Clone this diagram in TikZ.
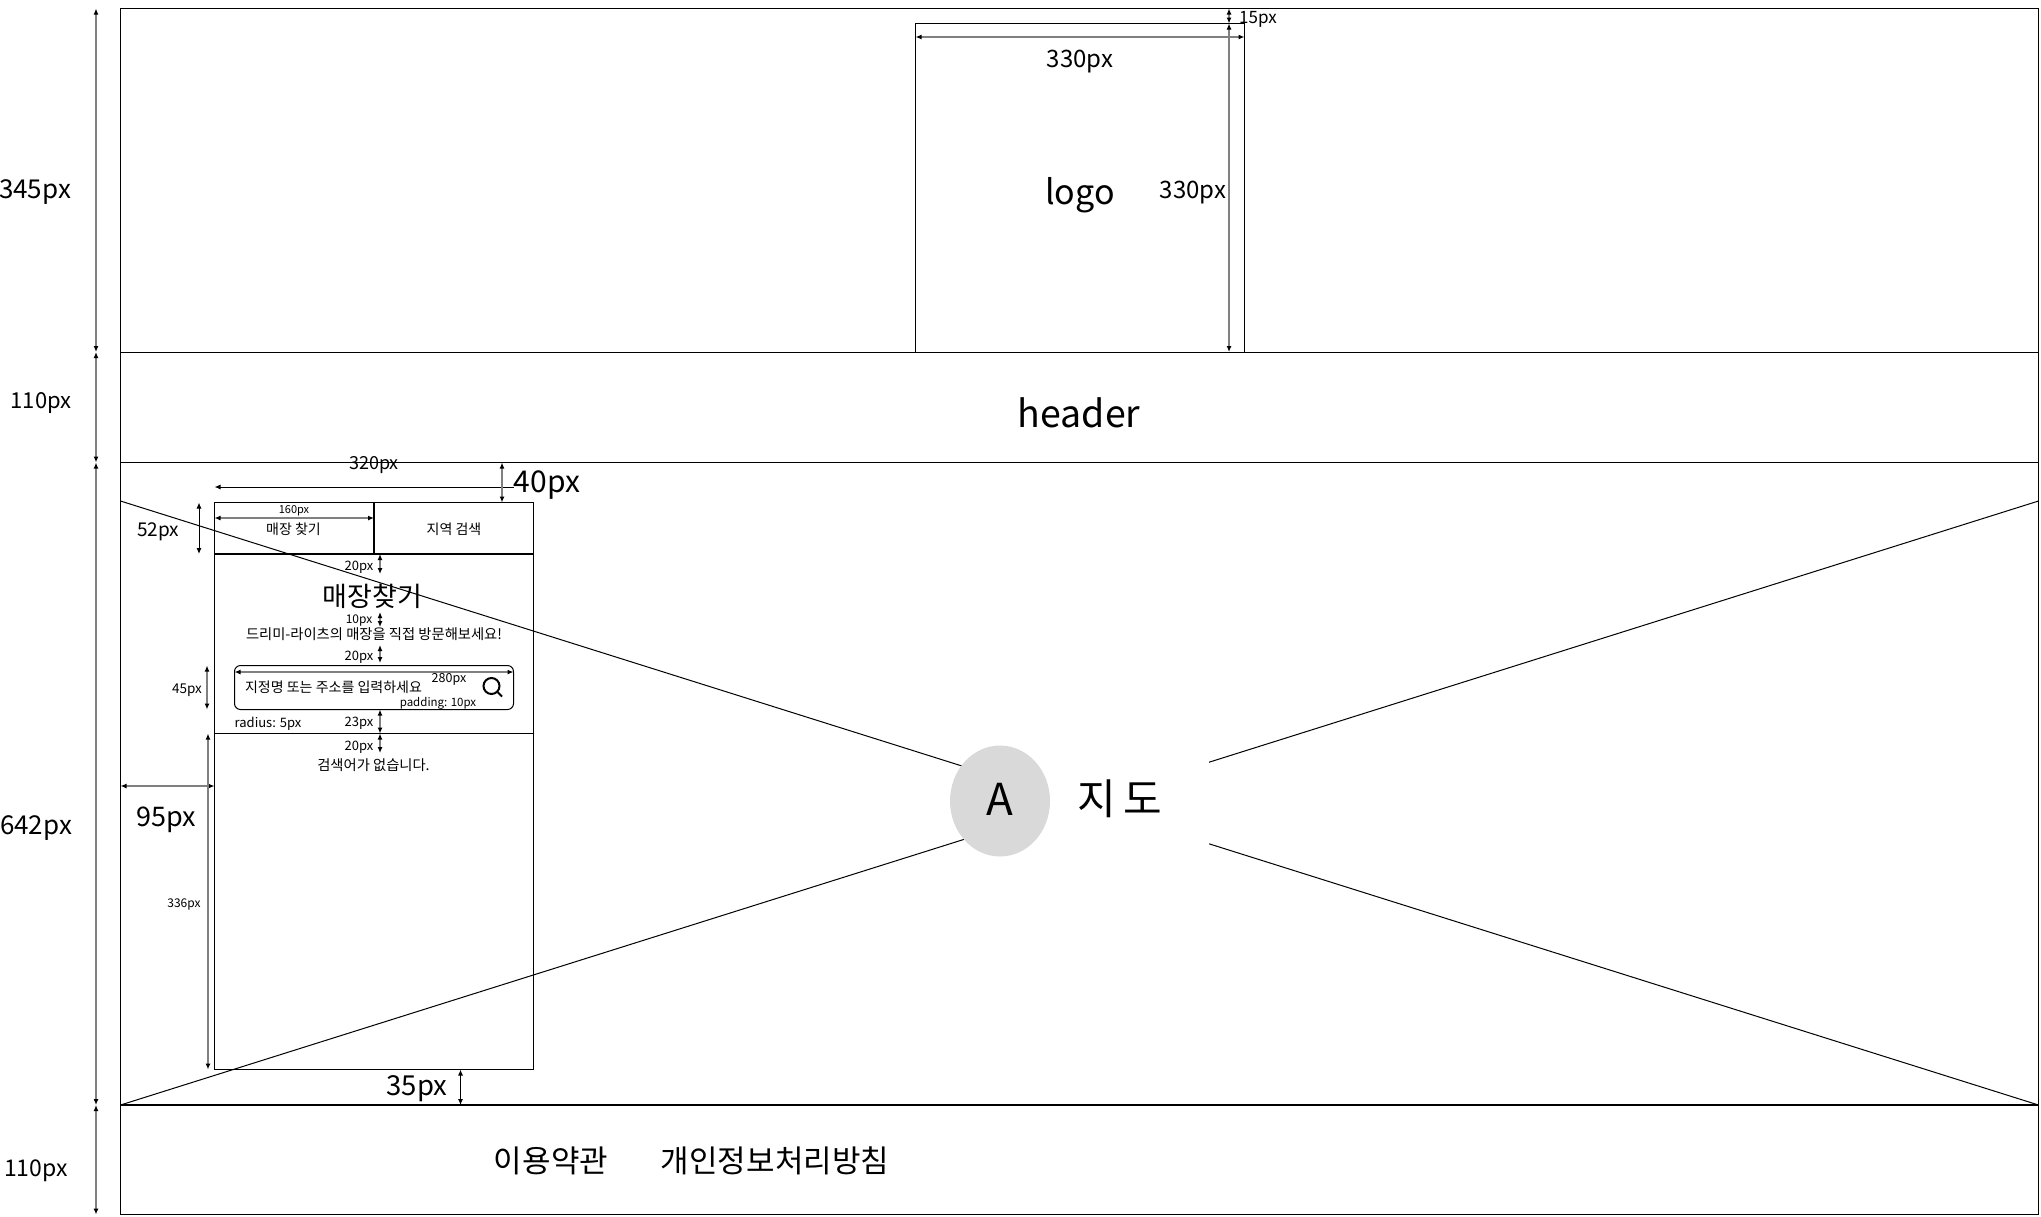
\documentclass[tikz,border=0pt]{standalone}
\usepackage{fontspec}
\setmainfont{Noto Sans CJK KR}
\usetikzlibrary{arrows.meta}
\tikzset{
	kor/.style={inner sep=0pt, font=\fontsize{#1}{#1}\selectfont},
	txt/.style={kor=#1, yshift={-0.13pt*#1}},
	dimline/.style={line width=1.6pt, color=black!50, {Latex[black,length=6pt,width=5pt]}-{Latex[black,length=6pt,width=5pt]}},
	dimthin/.style={dimline, line width=1pt, color=black}
}

\begin{document}
\begin{tikzpicture}[x=1pt, y=-1pt, line width=1pt]
			%%%%% START %%%%%
			\useasboundingbox (0, 0) rectangle (2041, 1216);
			
			\draw (120.5, 8.5) rectangle (2038.5, 1214.5);
			\draw (120.5, 352) -- (2038.5, 352);
			\draw (120.5, 462.5) -- (2038.5, 462.5);
			\draw[line width=2pt] (120.5, 1105) -- (2038.5, 1105);
			
			\draw (120.5, 501) -- (2038.5, 1105);
			\draw (120.5, 1105) -- (2038.5, 501);
			
			\draw (915.5, 23.5) rectangle (1244.5, 352);
			
			\node[fill=white, inner sep=0pt, minimum width=209pt, minimum height=95pt] (mapbox) at (1104.5, 803) {};
			\draw[fill=black!15, draw=none] (1000, 801) ellipse (50 and 55.5);
			\node[kor=44] (mark) at (1000, 799) {A};
			\node[kor=42] (maplabel) at (1120, 799) {지\hspace{7pt}도};
			
			\node[txt=34] (logo) at (1080, 191) {logo};
			\node[txt=37.5] (header) at (1079, 408) {header};
			\node[kor=31] (terms) at (551, 1161) {이용약관};
			\node[kor=31] (privacy) at (775, 1161) {개인정보처리방침};
			
			% outer sizes
			\draw[dimline] (96, 8.5) -- (96, 352);
			\draw[dimline] (96, 352) -- (96, 462.5);
			\draw[dimline] (96, 462.5) -- (96, 1105);
			\draw[dimline] (96, 1105) -- (96, 1214.5);
			\node[txt=26] (h345) at (35, 189) {345px};
			\node[txt=22] (h110a) at (41, 400) {110px};
			\node[txt=26] (h642) at (36, 825) {642px};
			\node[txt=23] (h110b) at (36, 1168) {110px};
			
			% logo sizes
			\draw[dimline] (915.5, 37) -- (1244.5, 37);
			\draw[dimline] (1229, 23.5) -- (1229, 352);
			\draw[dimline] (1229, 8.5) -- (1229, 23.5);
			\node[txt=24] (w330) at (1080, 58) {330px};
			\node[txt=24, fill=white] (h330) at (1193, 189) {330px};
			\node[txt=17] (top15) at (1258, 17) {15px};
			
			% panel
			\draw (214.5, 502.5) rectangle (533.5, 1069.5);
			\draw[line width=2pt] (214.5, 554) -- (533.5, 554);
			\draw[line width=1.5pt] (374, 502.5) -- (374, 554);
			\draw (214.5, 733.5) -- (533.5, 733.5);
			\draw[rounded corners=6pt] (234.5, 665.5) rectangle (513.5, 709.5);
			\draw[line width=2pt] (491.5, 686) circle (8);
			\draw[line width=2pt] (497.5, 692) -- (502, 696.5);
			
			\node[kor=14] (tabstore) at (293.5, 529.5) {매장 찾기};
			\node[kor=14] (tabarea) at (454, 529.5) {지역 검색};
			\node[kor=27] (title) at (372.5, 596) {매장찾기};
			\node[kor=14.3] (intro) at (374, 634.5) {드리미-라이츠의 매장을 직접 방문해보세요!};
			\node[kor=14] (hint) at (333.5, 687.5) {지정명 또는 주소를 입력하세요};
			\node[kor=14.3] (empty) at (373.5, 765) {검색어가 없습니다.};
			
			% panel sizes
			\draw[dimthin] (214.5, 487) -- (533.5, 487);
			\draw[dimline] (502, 462.5) -- (502, 502.5);
			\draw[dimline] (214.5, 518) -- (374, 518);
			\draw[dimthin] (199, 502.5) -- (199, 554);
			\draw[dimline] (380, 554) -- (380, 574);
			\draw[dimline] (380, 612) -- (380, 627);
			\draw[dimline] (380, 645) -- (380, 663);
			\draw[dimline] (234.5, 672) -- (513.5, 672);
			\draw[dimline] (207, 665.5) -- (207, 709.5);
			\draw[dimline] (380, 709.5) -- (380, 733.5);
			\draw[dimline] (380, 733.5) -- (380, 753);
			\draw[dimline] (120.5, 786) -- (214.5, 786);
			\draw[dimline] (208, 733.5) -- (208, 1069.5);
			\draw[dimthin] (460.5, 1069.5) -- (460.5, 1105);
			
			\node[txt=18] (w320) at (374, 463) {320px};
			\node[txt=30, fill=white] (top40) at (547, 481) {40px};
			\node[txt=11] (w160) at (294, 509) {160px};
			\node[txt=19] (h52) at (158, 529) {52px};
			\node[txt=13] (gap20a) at (359, 566) {20px};
			\node[txt=12] (gap10) at (359, 619) {10px};
			\node[txt=13] (gap20b) at (359, 656) {20px};
			\node[txt=12.5] (w280) at (449, 678) {280px};
			\node[txt=11.5] (pad) at (438, 702) {padding: 10px};
			\node[txt=13.5] (h45) at (187, 688) {45px};
			\node[txt=13] (radius) at (268, 722) {radius: 5px};
			\node[txt=13] (gap23) at (359, 722) {23px};
			\node[txt=13] (gap20c) at (359, 746) {20px};
			\node[txt=27] (w95) at (166, 816) {95px};
			\node[txt=12] (h336) at (184, 903) {336px};
			\node[txt=27.5] (bot35) at (417, 1085) {35px};
			
			%%%%% END %%%%%
		\end{tikzpicture}
\end{document}
